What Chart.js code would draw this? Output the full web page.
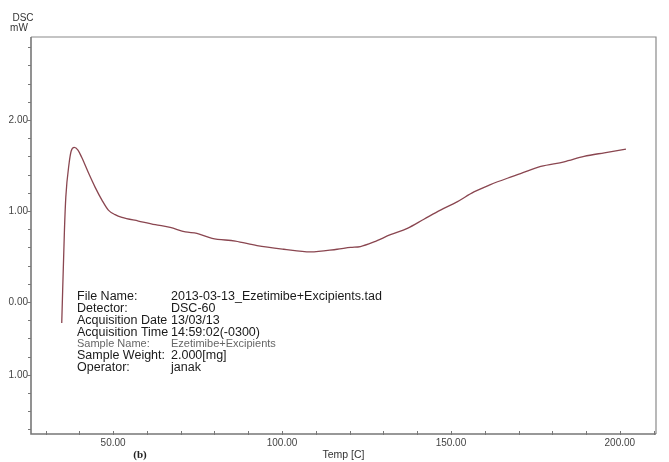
<!DOCTYPE html>
<html>
<head>
<meta charset="utf-8">
<script src="https://cdn.jsdelivr.net/npm/chart.js@4.4.1/dist/chart.umd.min.js"></script>
<style>
  html, body { margin: 0; padding: 0; background: #fff; }
  #wrap { width: 669px; height: 462px; position: relative; }
</style>
</head>
<body>
<div id="wrap"><canvas id="dscChart"></canvas></div>
<script>
// DSC curve (Temp in C, DSC in mW)
const temps = [34.8, 35.6, 36.0, 37.0, 37.6, 38.5, 39.6, 40.7, 42.7, 44.7, 46.7, 48.6, 50.6, 52.6,
  57.5, 62.5, 66.9, 71.4, 74.8, 79.3, 86.2, 92.6, 100.5, 108.4, 116.3, 120.3, 123.2, 127.2,
  132.1, 137.1, 142.0, 146.9, 151.8, 156.8, 161.7, 166.7, 170.6, 176.6, 183.5, 189.4, 195.4, 201.8];
const dsc = [-0.23, 0.79, 1.15, 1.53, 1.66, 1.70, 1.67, 1.59, 1.42, 1.26, 1.12, 1.01, 0.96, 0.93,
  0.89, 0.85, 0.82, 0.77, 0.755, 0.70, 0.67, 0.62, 0.58, 0.55, 0.58, 0.60, 0.61, 0.66,
  0.74, 0.81, 0.91, 1.01, 1.10, 1.21, 1.29, 1.36, 1.41, 1.49, 1.54, 1.60, 1.64, 1.68];

// axis ticks
const xTickValues = [30, 40, 50, 60, 70, 80, 90, 100, 110, 120, 130, 140, 150, 160, 170, 180, 190, 200, 210];
const xLabelValues = [50, 100, 150, 200];
const yTickValues = [-1.4, -1.2, -1.0, -0.8, -0.6, -0.4, -0.2, 0, 0.2, 0.4, 0.6, 0.8, 1.0, 1.2, 1.4, 1.6, 1.8, 2.0, 2.2, 2.4, 2.6, 2.8];
const yLabelValues = [2, 1, 0, -0.8];
const yLabelTexts = ['2.00', '1.00', '0.00', '1.00'];

const infoLabels = ['File Name:', 'Detector:', 'Acquisition Date', 'Acquisition Time', 'Sample Name:', 'Sample Weight:', 'Operator:'];
const infoValues = ['2013-03-13_Ezetimibe+Excipients.tad', 'DSC-60', '13/03/13', '14:59:02(-0300)', 'Ezetimibe+Excipients', '2.000[mg]', 'janak'];

const near = (a, b) => Math.abs(a - b) < 1e-6;
const FONT = '"Liberation Sans", Arial, sans-serif';

// frame, tick marks and the free text
const decorPlugin = {
  id: 'decor',
  afterDraw(chart) {
    const ctx = chart.ctx;
    const a = chart.chartArea;
    const xs = chart.scales.x, ys = chart.scales.y;
    ctx.save();

    // top + right frame
    ctx.strokeStyle = '#8a8a8a';
    ctx.lineWidth = 1.2;
    ctx.beginPath();
    ctx.moveTo(a.left, a.top);
    ctx.lineTo(a.right, a.top);
    ctx.lineTo(a.right, a.bottom);
    ctx.stroke();

    // axes
    ctx.strokeStyle = '#777';
    ctx.lineWidth = 1.6;
    ctx.beginPath();
    ctx.moveTo(a.left, a.top);
    ctx.lineTo(a.left, a.bottom);
    ctx.lineTo(a.right, a.bottom);
    ctx.stroke();

    // tick marks
    ctx.lineWidth = 1;
    ctx.strokeStyle = '#777';
    ctx.beginPath();
    xTickValues.forEach(v => {
      const px = Math.round(xs.getPixelForValue(v)) + 0.5;
      ctx.moveTo(px, a.bottom - 3);
      ctx.lineTo(px, a.bottom + 1);
    });
    yTickValues.forEach(v => {
      const py = Math.round(ys.getPixelForValue(v)) + 0.5;
      const len = yLabelValues.some(l => near(l, v)) ? 4 : 3;
      ctx.moveTo(a.left - len, py);
      ctx.lineTo(a.left, py);
    });
    ctx.stroke();

    // y axis title
    ctx.fillStyle = '#333';
    ctx.font = '10px ' + FONT;
    ctx.textAlign = 'center';
    ctx.textBaseline = 'middle';
    ctx.fillText('DSC', 23, 18);
    ctx.fillText('mW', 19, 28);

    // panel tag
    ctx.font = 'bold 11px "Liberation Serif", "Times New Roman", serif';
    ctx.fillStyle = '#222';
    ctx.fillText('(b)', 140, 455);

    // info block
    ctx.textAlign = 'left';
    infoLabels.forEach((lab, i) => {
      const y = 297 + i * 11.8;
      if (i === 4) {
        ctx.font = '11px ' + FONT;
        ctx.fillStyle = '#666';
      } else {
        ctx.font = '12.5px ' + FONT;
        ctx.fillStyle = '#1a1a1a';
      }
      ctx.fillText(lab, 77, y);
      ctx.fillText(infoValues[i], 171, y);
    });

    ctx.restore();
  }
};

document.addEventListener('DOMContentLoaded', function () {
  const ctx = document.getElementById('dscChart').getContext('2d');

  new Chart(ctx, {
    type: 'scatter',
    data: {
      datasets: [{
        data: temps.map((t, i) => ({ x: t, y: dsc[i] })),
        showLine: true,
        borderColor: '#8a4650',
        borderWidth: 1.3,
        pointRadius: 0,
        cubicInterpolationMode: 'monotone'
      }]
    },
    options: {
      responsive: true,
      maintainAspectRatio: false,
      animation: false,
      layout: { padding: { top: 37, right: 13, left: 0, bottom: 0 } },
      plugins: {
        legend: { display: false },
        tooltip: { enabled: false }
      },
      scales: {
        x: {
          type: 'linear',
          min: 25.7,
          max: 210.7,
          grid: { display: false, drawTicks: false },
          border: { display: false },
          afterBuildTicks: (scale) => {
            scale.ticks = xTickValues.map(v => ({ value: v }));
          },
          afterFit: (scale) => { scale.height = 28; },
          ticks: {
            autoSkip: false,
            maxRotation: 0,
            padding: 3,
            color: '#444',
            font: { size: 10, family: FONT },
            callback: (v) => xLabelValues.includes(v) ? v.toFixed(2) : ''
          },
          title: {
            display: true,
            text: 'Temp [C]',
            color: '#333',
            font: { size: 10.5, family: FONT },
            padding: { top: 0, bottom: 1 }
          }
        },
        y: {
          min: -1.45,
          max: 2.912,
          grid: { display: false, drawTicks: false },
          border: { display: false },
          afterBuildTicks: (scale) => {
            scale.ticks = yTickValues.map(v => ({ value: v }));
          },
          afterFit: (scale) => { scale.width = 31; },
          ticks: {
            autoSkip: false,
            padding: 3,
            color: '#444',
            font: { size: 10, family: FONT },
            callback: (v) => {
              const k = yLabelValues.findIndex(l => near(l, v));
              return k >= 0 ? yLabelTexts[k] : '';
            }
          }
        }
      }
    },
    plugins: [decorPlugin]
  });
});
</script>
</body>
</html>
